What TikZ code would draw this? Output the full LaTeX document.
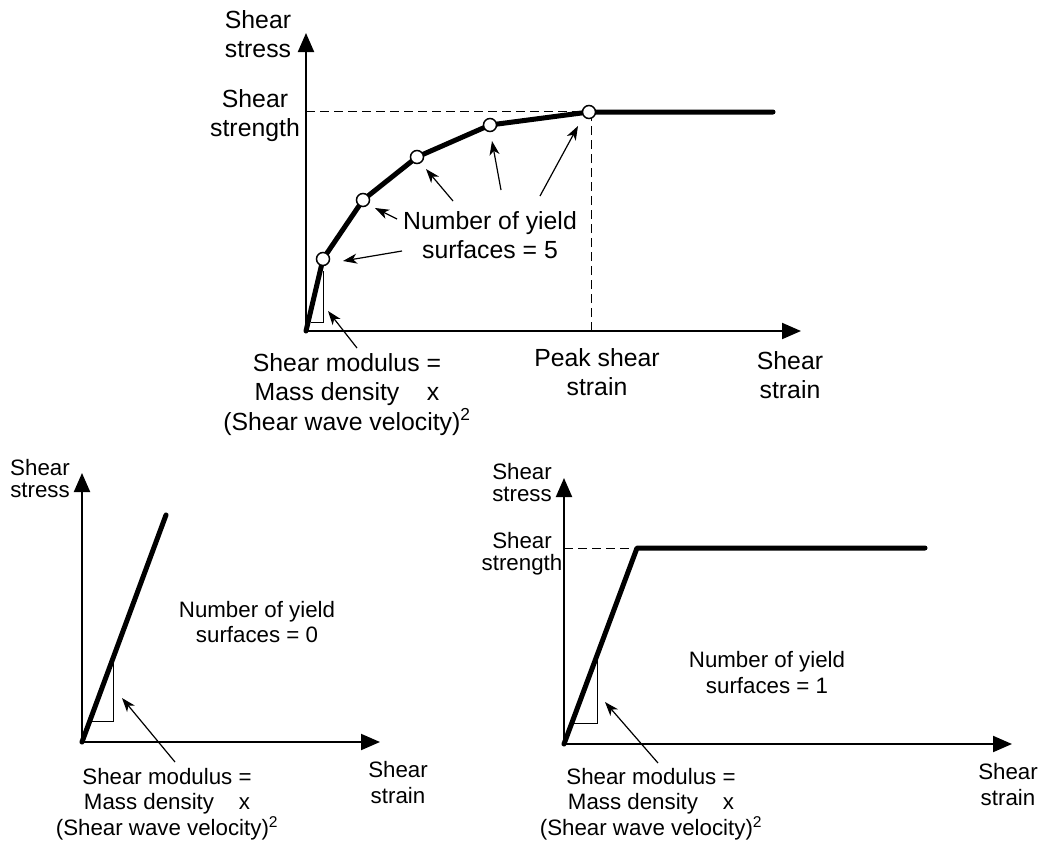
\documentclass[tikz,border=0pt]{standalone}
\usepackage{fontspec}
\setmainfont{Liberation Sans}
\usetikzlibrary{arrows.meta}
\begin{document}
\begin{tikzpicture}[x=1pt,y=-1pt,
 axisline/.style={line width=2pt,-{Triangle[length=19pt,width=16pt]}},
 curveline/.style={line width=5pt,line cap=round,line join=round},
 yieldpt/.style={circle,draw,fill=white,line width=1.5pt,inner sep=0pt,minimum size=13pt},
 pointer/.style={line width=1.2pt,-{Stealth[length=14pt,width=10pt,inset=4pt]}},
 guide/.style={line width=1pt,dash pattern=on 9pt off 5pt},
 slope/.style={line width=1pt},
 bigtxt/.style={align=center,anchor=base,inner sep=0pt,font=\fontsize{24.8}{29.5}\selectfont},
 smalltxt/.style={align=center,anchor=base,inner sep=0pt,font=\fontsize{22.3}{25.5}\selectfont},
 tighttxt/.style={align=center,anchor=base,inner sep=0pt,font=\fontsize{22.3}{22}\selectfont},
]
\useasboundingbox (0,0) rectangle (1042,844);

% ---------------- top graph ----------------
\coordinate (o1) at (306,331);
\coordinate (y1) at (306,33);
\coordinate (x1) at (801,331);
\coordinate (p1) at (323,259);
\coordinate (p2) at (363,200);
\coordinate (p3) at (417,157);
\coordinate (p4) at (490,125);
\coordinate (p5) at (589,112);
\coordinate (p6) at (773,112);
\coordinate (d1) at (306,111);
\coordinate (d2) at (591,331);
\coordinate (t1a) at (311,322);
\coordinate (t1b) at (323,322);
\coordinate (t1c) at (323,271);

\draw[guide] (d1) -- (p5 |- d1);
\draw[guide] (d2) -- (d2 |- p5);
\draw[axisline] (o1) -- (y1);
\draw[axisline] (o1) -- (x1);
\draw[slope] (t1a) -- (t1b) -- (t1c);
\draw[curveline] (o1) -- (p1) -- (p2) -- (p3) -- (p4) -- (p5) -- (p6);
\foreach \i in {1,...,5} \node[yieldpt] (c\i) at (p\i) {};

\coordinate (a1s) at (402,251); \coordinate (a1e) at (343,261);
\coordinate (a2s) at (397,219); \coordinate (a2e) at (375,208);
\coordinate (a3s) at (453,201); \coordinate (a3e) at (426,169);
\coordinate (a4s) at (501,190); \coordinate (a4e) at (492,141);
\coordinate (a5s) at (540,196); \coordinate (a5e) at (578,126);
\coordinate (a6s) at (357,348); \coordinate (a6e) at (328,311);
\foreach \i in {1,...,6} \draw[pointer] (a\i s) -- (a\i e);

\node[bigtxt] (ylab1) at (258,57.5) {Shear\\stress};
\node[bigtxt] (slab1) at (255,136.5) {Shear\\strength};
\node[bigtxt] (nys1) at (490,258.5) {Number of yield\\surfaces = 5};
\node[bigtxt] (gm1) at (347,430) {Shear modulus =\\Mass density\ \ \ \ x\\(Shear wave velocity)\textsuperscript{2}};
\node[bigtxt] (pk1) at (597,395.5) {Peak shear\\strain};
\node[bigtxt] (xlab1) at (790,398.5) {Shear\\strain};

% ---------------- bottom-left graph ----------------
\coordinate (o2) at (82,742);
\coordinate (y2) at (82,473);
\coordinate (x2) at (380,742);
\coordinate (q1) at (166,515);
\coordinate (t2a) at (90,721);
\coordinate (t2b) at (113,721);
\coordinate (t2c) at (113,659);
\draw[axisline] (o2) -- (y2);
\draw[axisline] (o2) -- (x2);
\draw[slope] (t2a) -- (t2b) -- (t2c);
\draw[curveline] (o2) -- (q1);
\coordinate (b1s) at (175,762); \coordinate (b1e) at (122,698);
\draw[pointer] (b1s) -- (b1e);

\node[tighttxt] (ylab2) at (40,497) {Shear\\stress};
\node[smalltxt] (nys2) at (257,642.5) {Number of yield\\surfaces = 0};
\node[smalltxt] (xlab2) at (398,803) {Shear\\strain};
\node[smalltxt] (gm2) at (167,835) {Shear modulus =\\Mass density\ \ \ \ x\\(Shear wave velocity)\textsuperscript{2}};

% ---------------- bottom-right graph ----------------
\coordinate (o3) at (564,744);
\coordinate (y3) at (564,478);
\coordinate (x3) at (1012,744);
\coordinate (r1) at (637,548);
\coordinate (r2) at (925,548);
\coordinate (d3) at (564,548);
\coordinate (t3a) at (572,723);
\coordinate (t3b) at (597,723);
\coordinate (t3c) at (597,656);
\draw[guide] (d3) -- (r1);
\draw[axisline] (o3) -- (y3);
\draw[axisline] (o3) -- (x3);
\draw[slope] (t3a) -- (t3b) -- (t3c);
\draw[curveline] (o3) -- (r1) -- (r2);
\coordinate (b2s) at (658,763); \coordinate (b2e) at (605,702);
\draw[pointer] (b2s) -- (b2e);

\node[tighttxt] (ylab3) at (522,501) {Shear\\stress};
\node[tighttxt] (slab3) at (522,570) {Shear\\strength};
\node[smalltxt] (nys3) at (767,693) {Number of yield\\surfaces = 1};
\node[smalltxt] (xlab3) at (1008,805) {Shear\\strain};
\node[smalltxt] (gm3) at (651,835) {Shear modulus =\\Mass density\ \ \ \ x\\(Shear wave velocity)\textsuperscript{2}};
\end{tikzpicture}
\end{document}
